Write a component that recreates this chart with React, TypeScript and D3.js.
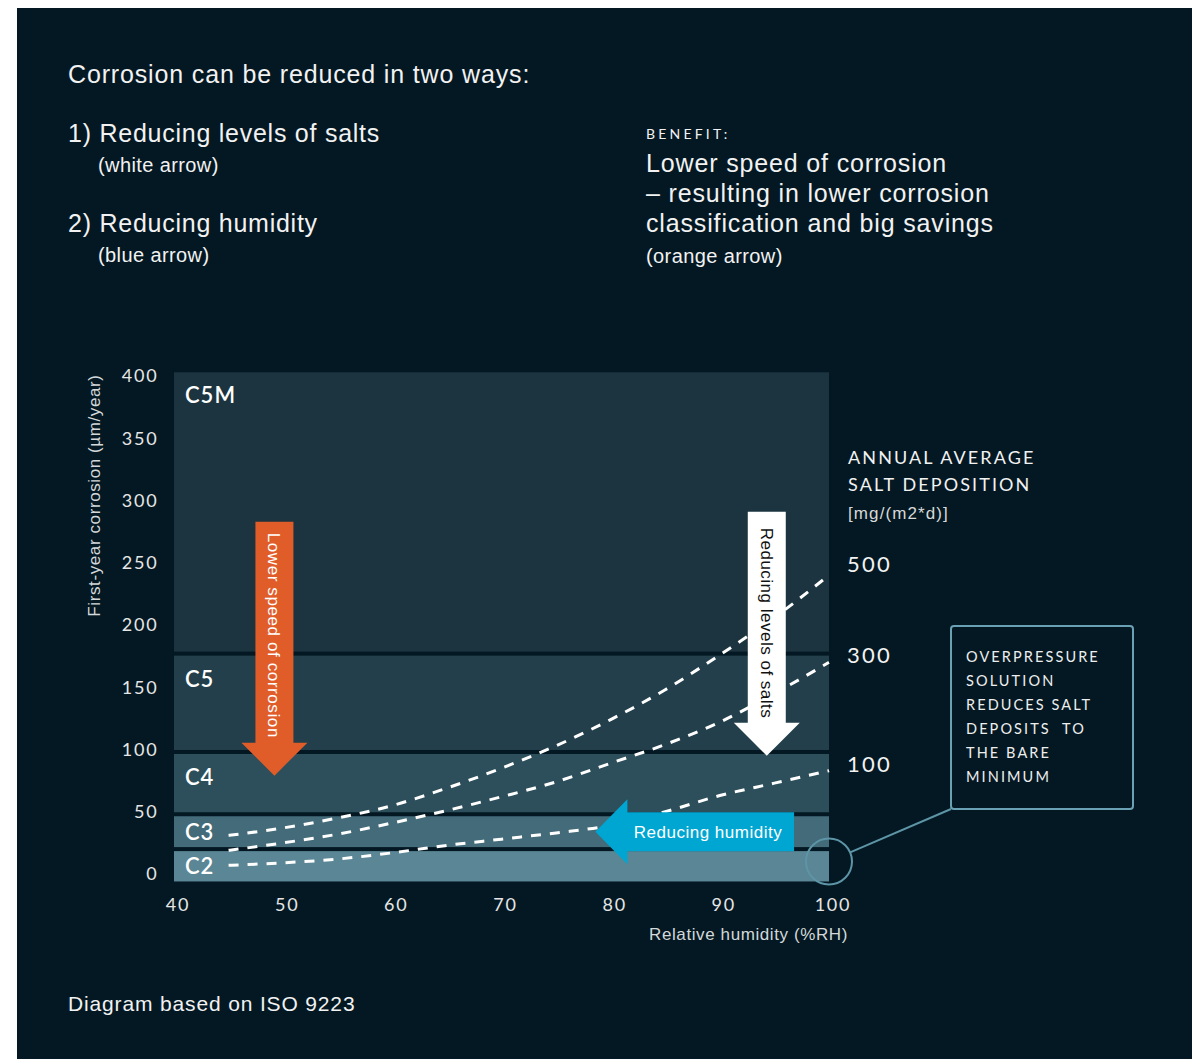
import React from "react";
import * as d3 from "d3";

const RH_TICKS = [40, 50, 60, 70, 80, 90, 100];
const CORR_TICKS = [0, 50, 100, 150, 200, 250, 300, 350, 400];

const BAND_NAMES = ["C2", "C3", "C4", "C5", "C5M"];
const BAND_LOW = [-6, 20, 48, 98, 177];
const BAND_HIGH = [20, 48, 98, 177, 403];
const BAND_COLORS = ["#5a8695", "#436b79", "#2d4f5c", "#223f4b", "#1c343f"];

const RH_POINTS = [45, 50, 55, 60, 65, 70, 75, 80, 85, 90, 95, 100];
const SALT_500 = [31, 37, 45, 55, 69, 85, 103, 124, 148, 176, 206, 240];
const SALT_300 = [19, 25, 32, 41, 51, 62, 74, 89, 104, 122, 145, 170];
const SALT_100 = [7, 9, 12, 17, 23, 28, 33, 39, 50, 63, 73, 83];
const SALT_LABELS = ["500", "300", "100"];
const SALT_LABEL_AT = [249, 176, 88];

const BOX_LINES = ["OVERPRESSURE", "SOLUTION", "REDUCES SALT", "DEPOSITS  TO", "THE BARE", "MINIMUM"];

const BG = "#031822";
const HELV = "'Liberation Sans', Arial, Helvetica, sans-serif";
const GEO = "Lato, 'Noto Sans', sans-serif";

export default function App() {
  const x = d3.scaleLinear().domain([40, 100]).range([174, 829]);
  const y = d3.scaleLinear().domain([0, 400]).range([874, 376]);

  const line = d3
    .line<number>()
    .x((_, i) => x(RH_POINTS[i]))
    .y((d) => y(d))
    .curve(d3.curveMonotoneX);

  const curves = [SALT_500, SALT_300, SALT_100];

  const arrowDown = (cx: number, yTop: number, yTip: number, shaftW: number, headW: number, headH: number) => {
    const p = d3.path();
    p.moveTo(cx - shaftW / 2, yTop);
    p.lineTo(cx + shaftW / 2, yTop);
    p.lineTo(cx + shaftW / 2, yTip - headH);
    p.lineTo(cx + headW / 2, yTip - headH);
    p.lineTo(cx, yTip);
    p.lineTo(cx - headW / 2, yTip - headH);
    p.lineTo(cx - shaftW / 2, yTip - headH);
    p.closePath();
    return p.toString();
  };
  const arrowLeft = (cy: number, xRight: number, xTip: number, shaftH: number, headH: number, headW: number) => {
    const p = d3.path();
    p.moveTo(xRight, cy - shaftH / 2);
    p.lineTo(xRight, cy + shaftH / 2);
    p.lineTo(xTip + headW, cy + shaftH / 2);
    p.lineTo(xTip + headW, cy + headH / 2);
    p.lineTo(xTip, cy);
    p.lineTo(xTip + headW, cy - headH / 2);
    p.lineTo(xTip + headW, cy - shaftH / 2);
    p.closePath();
    return p.toString();
  };

  const orangeX = x(49.2);
  const whiteX = x(94.3);
  const blueY = y(34);

  const circX = x(100);
  const circY = y(10);
  const circR = 23;
  const boxX = 951, boxY = 626, boxW = 182, boxH = 183;
  const dx = boxX - circX, dy = boxY + boxH - circY;
  const dl = Math.sqrt(dx * dx + dy * dy);

  return (
    <svg width={1192} height={1059} style={{ position: "absolute", left: 0, top: 0, display: "block" }}>
      <rect x={0} y={0} width={1192} height={1059} fill="#ffffff" />
      <rect x={17} y={8} width={1175} height={1051} fill={BG} />

      {/* Header texts */}
      <g fill="#f2f2f2" fontFamily={HELV}>
        <text x={68} y={83} fontSize={25} letterSpacing={0.85}>Corrosion can be reduced in two ways:</text>
        <text x={68} y={142} fontSize={25} letterSpacing={0.75}>1) Reducing levels of salts</text>
        <text x={98} y={172} fontSize={20} letterSpacing={0.4}>(white arrow)</text>
        <text x={68} y={232} fontSize={25} letterSpacing={0.75}>2) Reducing humidity</text>
        <text x={98} y={262} fontSize={20} letterSpacing={0.4}>(blue arrow)</text>
        <text x={646} y={139} fontSize={14} fontFamily={GEO} letterSpacing={3.2}>BENEFIT:</text>
        <text x={646} y={172} fontSize={25} letterSpacing={0.85}>Lower speed of corrosion</text>
        <text x={646} y={202} fontSize={25} letterSpacing={0.85}>– resulting in lower corrosion</text>
        <text x={646} y={232} fontSize={25} letterSpacing={0.85}>classification and big savings</text>
        <text x={646} y={263} fontSize={20} letterSpacing={0.4}>(orange arrow)</text>
        <text x={68} y={1011} fontSize={21} letterSpacing={0.85}>Diagram based on ISO 9223</text>
      </g>

      {/* Bands */}
      {BAND_NAMES.map((name, i) => {
        const top = y(BAND_HIGH[i]) + (i < BAND_NAMES.length - 1 ? 2 : 0);
        const bot = y(BAND_LOW[i]) - (i > 0 ? 2 : 0);
        const ly = Math.min(top + 23, (top + bot) / 2);
        return (
          <g key={name}>
            <rect x={x(40)} y={top} width={x(100) - x(40)} height={bot - top} fill={BAND_COLORS[i]} />
            <text x={185} y={ly} dy="0.36em" fill="#ffffff" fontFamily={GEO} fontWeight={600} fontSize={22} letterSpacing={1}>
              {name}
            </text>
          </g>
        );
      })}

      {/* Ticks */}
      <g fill="#e6e6e6" fontFamily={GEO} fontSize={18} letterSpacing={1.8}>
        {CORR_TICKS.map((t) => (
          <text key={t} x={158.5} y={y(t)} dy="0.36em" textAnchor="end">{t}</text>
        ))}
        {RH_TICKS.map((t) => (
          <text key={t} x={x(t) + 4} y={905} dy="0.36em" textAnchor="middle">{t}</text>
        ))}
      </g>
      <text
        transform={`translate(100,${y(304)}) rotate(-90)`}
        textAnchor="middle"
        fill="#d4d8da"
        fontFamily={HELV}
        fontSize={17}
        letterSpacing={0.6}
      >
        First-year corrosion (µm/year)
      </text>
      <text x={848} y={940} textAnchor="end" fill="#d4d8da" fontFamily={HELV} fontSize={17} letterSpacing={0.6}>
        Relative humidity (%RH)
      </text>

      {/* Dashed curves */}
      {curves.map((c, i) => (
        <path key={i} d={line(c) || ""} fill="none" stroke="#ffffff" strokeWidth={3} strokeDasharray="10 9" />
      ))}

      {/* Orange arrow */}
      <path d={arrowDown(orangeX, y(283), y(79), 38, 66, 33)} fill="#e05c28" />
      <text
        transform={`translate(${orangeX},${y(283) + 11}) rotate(90)`}
        dy="0.36em"
        fill="#ffffff"
        fontFamily={HELV}
        fontSize={17}
        letterSpacing={0.6}
      >
        Lower speed of corrosion
      </text>

      {/* White arrow */}
      <path d={arrowDown(whiteX, y(291), y(95), 38, 66, 33)} fill="#ffffff" />
      <text
        transform={`translate(${whiteX},${y(291) + 16}) rotate(90)`}
        dy="0.36em"
        fill="#111111"
        fontFamily={HELV}
        fontSize={17}
        letterSpacing={0.5}
      >
        Reducing levels of salts
      </text>

      {/* Blue arrow */}
      <path d={arrowLeft(blueY, x(96.8), x(78.6), 39, 65, 32)} fill="#00a6d2" />
      <text x={708} y={blueY} dy="0.36em" textAnchor="middle" fill="#ffffff" fontFamily={HELV} fontSize={17} letterSpacing={0.5}>
        Reducing humidity
      </text>

      {/* Salt deposition labels */}
      <g fill="#f2f2f2" fontFamily={GEO}>
        <text x={848} y={464} fontSize={18} letterSpacing={2.1}>ANNUAL AVERAGE</text>
        <text x={848} y={491} fontSize={18} letterSpacing={2.1}>SALT DEPOSITION</text>
        <text x={848} y={519} fontSize={17} fontFamily={HELV} fill="#d8d8d8" letterSpacing={1.1}>[mg/(m2*d)]</text>
        {SALT_LABELS.map((s, i) => (
          <text key={s} x={847} y={y(SALT_LABEL_AT[i])} dy="0.36em" fontSize={22} letterSpacing={2.2}>{s}</text>
        ))}
      </g>

      {/* Callout */}
      <circle cx={circX} cy={circY} r={circR} fill="none" stroke="#5d94a6" strokeWidth={2} />
      <line
        x1={circX + (dx / dl) * circR}
        y1={circY + (dy / dl) * circR}
        x2={boxX}
        y2={boxY + boxH}
        stroke="#5d94a6"
        strokeWidth={2}
      />
      <rect x={boxX} y={boxY} width={boxW} height={boxH} rx={3} fill={BG} stroke="#6aa1b4" strokeWidth={2} />
      <g fill="#eeeeee" fontFamily={GEO} fontSize={14.5} letterSpacing={2.1}>
        {BOX_LINES.map((l, i) => (
          <text key={i} x={966} y={662 + i * 24} style={{ whiteSpace: "pre" }}>{l}</text>
        ))}
      </g>
    </svg>
  );
}
